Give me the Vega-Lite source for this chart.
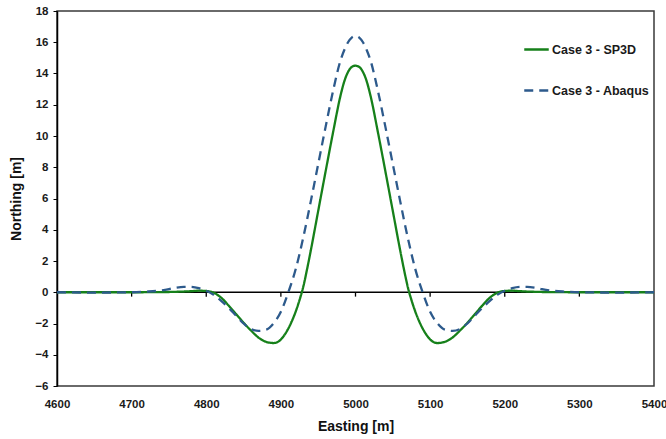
{
  "$schema": "https://vega.github.io/schema/vega-lite/v6.json",
  "width": 597,
  "height": 375,
  "autosize": {"type": "none"},
  "padding": {"left": 57, "top": 11, "right": 12, "bottom": 53},
  "background": "white",
  "config": {"view": {"stroke": "#3a3a3a", "strokeWidth": 1.5}, "font": "Liberation Sans"},
  "datasets": {
    "ticks": [{"e": 4700, "v": 0}, {"e": 4800, "v": 0}, {"e": 4900, "v": 0}, {"e": 5000, "v": 0}, {"e": 5100, "v": 0}, {"e": 5200, "v": 0}, {"e": 5300, "v": 0}],
    "zero": [{"v": 0}],
    "curves": [
      {"e": 4600, "v": 0, "s": "Case 3 - SP3D"},
      {"e": 4650, "v": 0, "s": "Case 3 - SP3D"},
      {"e": 4700, "v": 0, "s": "Case 3 - SP3D"},
      {"e": 4740, "v": 0.01, "s": "Case 3 - SP3D"},
      {"e": 4760, "v": 0.03, "s": "Case 3 - SP3D"},
      {"e": 4780, "v": 0.07, "s": "Case 3 - SP3D"},
      {"e": 4790, "v": 0.1, "s": "Case 3 - SP3D"},
      {"e": 4800, "v": 0.08, "s": "Case 3 - SP3D"},
      {"e": 4810, "v": -0.03, "s": "Case 3 - SP3D"},
      {"e": 4820, "v": -0.35, "s": "Case 3 - SP3D"},
      {"e": 4830, "v": -0.85, "s": "Case 3 - SP3D"},
      {"e": 4840, "v": -1.4, "s": "Case 3 - SP3D"},
      {"e": 4850, "v": -1.95, "s": "Case 3 - SP3D"},
      {"e": 4860, "v": -2.45, "s": "Case 3 - SP3D"},
      {"e": 4870, "v": -2.9, "s": "Case 3 - SP3D"},
      {"e": 4880, "v": -3.17, "s": "Case 3 - SP3D"},
      {"e": 4890, "v": -3.25, "s": "Case 3 - SP3D"},
      {"e": 4895, "v": -3.2, "s": "Case 3 - SP3D"},
      {"e": 4900, "v": -3.02, "s": "Case 3 - SP3D"},
      {"e": 4905, "v": -2.72, "s": "Case 3 - SP3D"},
      {"e": 4910, "v": -2.32, "s": "Case 3 - SP3D"},
      {"e": 4915, "v": -1.82, "s": "Case 3 - SP3D"},
      {"e": 4920, "v": -1.22, "s": "Case 3 - SP3D"},
      {"e": 4925, "v": -0.5, "s": "Case 3 - SP3D"},
      {"e": 4930, "v": 0.35, "s": "Case 3 - SP3D"},
      {"e": 4935, "v": 1.45, "s": "Case 3 - SP3D"},
      {"e": 4940, "v": 2.65, "s": "Case 3 - SP3D"},
      {"e": 4950, "v": 5.2, "s": "Case 3 - SP3D"},
      {"e": 4960, "v": 7.75, "s": "Case 3 - SP3D"},
      {"e": 4970, "v": 10.25, "s": "Case 3 - SP3D"},
      {"e": 4980, "v": 12.6, "s": "Case 3 - SP3D"},
      {"e": 4985, "v": 13.5, "s": "Case 3 - SP3D"},
      {"e": 4990, "v": 14.1, "s": "Case 3 - SP3D"},
      {"e": 4995, "v": 14.42, "s": "Case 3 - SP3D"},
      {"e": 5000, "v": 14.5, "s": "Case 3 - SP3D"},
      {"e": 5005, "v": 14.42, "s": "Case 3 - SP3D"},
      {"e": 5010, "v": 14.1, "s": "Case 3 - SP3D"},
      {"e": 5015, "v": 13.5, "s": "Case 3 - SP3D"},
      {"e": 5020, "v": 12.6, "s": "Case 3 - SP3D"},
      {"e": 5030, "v": 10.25, "s": "Case 3 - SP3D"},
      {"e": 5040, "v": 7.75, "s": "Case 3 - SP3D"},
      {"e": 5050, "v": 5.2, "s": "Case 3 - SP3D"},
      {"e": 5060, "v": 2.65, "s": "Case 3 - SP3D"},
      {"e": 5065, "v": 1.45, "s": "Case 3 - SP3D"},
      {"e": 5070, "v": 0.35, "s": "Case 3 - SP3D"},
      {"e": 5075, "v": -0.5, "s": "Case 3 - SP3D"},
      {"e": 5080, "v": -1.22, "s": "Case 3 - SP3D"},
      {"e": 5085, "v": -1.82, "s": "Case 3 - SP3D"},
      {"e": 5090, "v": -2.32, "s": "Case 3 - SP3D"},
      {"e": 5095, "v": -2.72, "s": "Case 3 - SP3D"},
      {"e": 5100, "v": -3.02, "s": "Case 3 - SP3D"},
      {"e": 5105, "v": -3.2, "s": "Case 3 - SP3D"},
      {"e": 5110, "v": -3.25, "s": "Case 3 - SP3D"},
      {"e": 5120, "v": -3.17, "s": "Case 3 - SP3D"},
      {"e": 5130, "v": -2.9, "s": "Case 3 - SP3D"},
      {"e": 5140, "v": -2.45, "s": "Case 3 - SP3D"},
      {"e": 5150, "v": -1.95, "s": "Case 3 - SP3D"},
      {"e": 5160, "v": -1.4, "s": "Case 3 - SP3D"},
      {"e": 5170, "v": -0.85, "s": "Case 3 - SP3D"},
      {"e": 5180, "v": -0.35, "s": "Case 3 - SP3D"},
      {"e": 5190, "v": -0.03, "s": "Case 3 - SP3D"},
      {"e": 5200, "v": 0.08, "s": "Case 3 - SP3D"},
      {"e": 5210, "v": 0.1, "s": "Case 3 - SP3D"},
      {"e": 5220, "v": 0.07, "s": "Case 3 - SP3D"},
      {"e": 5240, "v": 0.03, "s": "Case 3 - SP3D"},
      {"e": 5260, "v": 0.01, "s": "Case 3 - SP3D"},
      {"e": 5300, "v": 0, "s": "Case 3 - SP3D"},
      {"e": 5350, "v": 0, "s": "Case 3 - SP3D"},
      {"e": 5400, "v": 0, "s": "Case 3 - SP3D"},
      {"e": 4600, "v": 0, "s": "Case 3 - Abaqus"},
      {"e": 4650, "v": -0.02, "s": "Case 3 - Abaqus"},
      {"e": 4700, "v": 0.0, "s": "Case 3 - Abaqus"},
      {"e": 4720, "v": 0.04, "s": "Case 3 - Abaqus"},
      {"e": 4740, "v": 0.12, "s": "Case 3 - Abaqus"},
      {"e": 4750, "v": 0.2, "s": "Case 3 - Abaqus"},
      {"e": 4760, "v": 0.3, "s": "Case 3 - Abaqus"},
      {"e": 4770, "v": 0.35, "s": "Case 3 - Abaqus"},
      {"e": 4780, "v": 0.34, "s": "Case 3 - Abaqus"},
      {"e": 4790, "v": 0.26, "s": "Case 3 - Abaqus"},
      {"e": 4800, "v": 0.1, "s": "Case 3 - Abaqus"},
      {"e": 4810, "v": -0.17, "s": "Case 3 - Abaqus"},
      {"e": 4820, "v": -0.55, "s": "Case 3 - Abaqus"},
      {"e": 4830, "v": -1.0, "s": "Case 3 - Abaqus"},
      {"e": 4840, "v": -1.5, "s": "Case 3 - Abaqus"},
      {"e": 4850, "v": -2.0, "s": "Case 3 - Abaqus"},
      {"e": 4860, "v": -2.35, "s": "Case 3 - Abaqus"},
      {"e": 4870, "v": -2.47, "s": "Case 3 - Abaqus"},
      {"e": 4880, "v": -2.4, "s": "Case 3 - Abaqus"},
      {"e": 4890, "v": -2.0, "s": "Case 3 - Abaqus"},
      {"e": 4900, "v": -1.25, "s": "Case 3 - Abaqus"},
      {"e": 4910, "v": 0.0, "s": "Case 3 - Abaqus"},
      {"e": 4920, "v": 1.5, "s": "Case 3 - Abaqus"},
      {"e": 4930, "v": 3.5, "s": "Case 3 - Abaqus"},
      {"e": 4940, "v": 5.8, "s": "Case 3 - Abaqus"},
      {"e": 4950, "v": 8.2, "s": "Case 3 - Abaqus"},
      {"e": 4960, "v": 10.6, "s": "Case 3 - Abaqus"},
      {"e": 4970, "v": 12.9, "s": "Case 3 - Abaqus"},
      {"e": 4980, "v": 14.85, "s": "Case 3 - Abaqus"},
      {"e": 4985, "v": 15.5, "s": "Case 3 - Abaqus"},
      {"e": 4990, "v": 16.0, "s": "Case 3 - Abaqus"},
      {"e": 4995, "v": 16.3, "s": "Case 3 - Abaqus"},
      {"e": 5000, "v": 16.4, "s": "Case 3 - Abaqus"},
      {"e": 5005, "v": 16.3, "s": "Case 3 - Abaqus"},
      {"e": 5010, "v": 16.0, "s": "Case 3 - Abaqus"},
      {"e": 5015, "v": 15.5, "s": "Case 3 - Abaqus"},
      {"e": 5020, "v": 14.85, "s": "Case 3 - Abaqus"},
      {"e": 5030, "v": 12.9, "s": "Case 3 - Abaqus"},
      {"e": 5040, "v": 10.6, "s": "Case 3 - Abaqus"},
      {"e": 5050, "v": 8.2, "s": "Case 3 - Abaqus"},
      {"e": 5060, "v": 5.8, "s": "Case 3 - Abaqus"},
      {"e": 5070, "v": 3.5, "s": "Case 3 - Abaqus"},
      {"e": 5080, "v": 1.5, "s": "Case 3 - Abaqus"},
      {"e": 5090, "v": 0.0, "s": "Case 3 - Abaqus"},
      {"e": 5100, "v": -1.25, "s": "Case 3 - Abaqus"},
      {"e": 5110, "v": -2.0, "s": "Case 3 - Abaqus"},
      {"e": 5120, "v": -2.4, "s": "Case 3 - Abaqus"},
      {"e": 5130, "v": -2.47, "s": "Case 3 - Abaqus"},
      {"e": 5140, "v": -2.35, "s": "Case 3 - Abaqus"},
      {"e": 5150, "v": -2.0, "s": "Case 3 - Abaqus"},
      {"e": 5160, "v": -1.5, "s": "Case 3 - Abaqus"},
      {"e": 5170, "v": -1.0, "s": "Case 3 - Abaqus"},
      {"e": 5180, "v": -0.55, "s": "Case 3 - Abaqus"},
      {"e": 5190, "v": -0.17, "s": "Case 3 - Abaqus"},
      {"e": 5200, "v": 0.1, "s": "Case 3 - Abaqus"},
      {"e": 5210, "v": 0.26, "s": "Case 3 - Abaqus"},
      {"e": 5220, "v": 0.34, "s": "Case 3 - Abaqus"},
      {"e": 5230, "v": 0.35, "s": "Case 3 - Abaqus"},
      {"e": 5240, "v": 0.3, "s": "Case 3 - Abaqus"},
      {"e": 5250, "v": 0.2, "s": "Case 3 - Abaqus"},
      {"e": 5260, "v": 0.12, "s": "Case 3 - Abaqus"},
      {"e": 5280, "v": 0.04, "s": "Case 3 - Abaqus"},
      {"e": 5300, "v": 0.0, "s": "Case 3 - Abaqus"},
      {"e": 5350, "v": -0.02, "s": "Case 3 - Abaqus"},
      {"e": 5400, "v": 0, "s": "Case 3 - Abaqus"}
    ]
  },
  "encoding": {
    "y": {
      "field": "v", "type": "quantitative",
      "scale": {"domain": [-6, 18], "nice": false, "zero": false},
      "axis": {
        "values": [-6, -4, -2, 0, 2, 4, 6, 8, 10, 12, 14, 16, 18],
        "title": "Northing [m]", "titleFontSize": 14, "titleFontWeight": "bold", "titleColor": "#111", "titlePadding": 11,
        "labelFontSize": 11.5, "labelFontWeight": "bold", "labelColor": "#1a1a1a", "labelPadding": 5,
        "tickSize": 4, "tickColor": "black", "domainColor": "black", "domainWidth": 1.5, "grid": false
      }
    }
  },
  "layer": [
    {
      "data": {"name": "zero"},
      "mark": {"type": "rule", "color": "black", "strokeWidth": 1.5},
      "encoding": {}
    },
    {
      "data": {"name": "ticks"},
      "mark": {"type": "rule", "color": "black", "strokeWidth": 1.3},
      "encoding": {
        "y2": {"datum": -0.28},
        "x": {
          "field": "e", "type": "quantitative",
          "scale": {"domain": [4600, 5400], "nice": false, "zero": false},
          "axis": {
            "values": [4600, 4700, 4800, 4900, 5000, 5100, 5200, 5300, 5400], "format": "d",
            "title": "Easting [m]", "titleFontSize": 14, "titleFontWeight": "bold", "titleColor": "#111", "titlePadding": 10,
            "labelFontSize": 11.5, "labelFontWeight": "bold", "labelColor": "#1a1a1a", "labelPadding": 12,
            "labelFlush": false, "labelOverlap": false, "labelBound": false,
            "ticks": false, "domain": false, "grid": false
          }
        }
      }
    },
    {
      "data": {"name": "curves"},
      "mark": {"type": "line", "interpolate": "monotone", "strokeWidth": 2.3},
      "encoding": {
        "x": {
          "field": "e", "type": "quantitative",
          "scale": {"domain": [4600, 5400], "nice": false, "zero": false},
          "axis": {
            "values": [4600, 4700, 4800, 4900, 5000, 5100, 5200, 5300, 5400], "format": "d",
            "title": "Easting [m]", "titleFontSize": 14, "titleFontWeight": "bold", "titleColor": "#111", "titlePadding": 10,
            "labelFontSize": 11.5, "labelFontWeight": "bold", "labelColor": "#1a1a1a", "labelPadding": 12,
            "labelFlush": false, "labelOverlap": false, "labelBound": false,
            "ticks": false, "domain": false, "grid": false
          }
        },
        "color": {
          "field": "s", "type": "nominal",
          "scale": {"domain": ["Case 3 - SP3D", "Case 3 - Abaqus"], "range": ["#16801a", "#2d5a8c"]},
          "legend": {
            "orient": "none", "legendX": 466, "legendY": 25, "title": null,
            "symbolType": "stroke", "symbolSize": 600, "symbolStrokeWidth": 2.5,
            "labelFontSize": 12.5, "labelFontWeight": "bold", "labelColor": "#1a1a1a", "labelOffset": 2,
            "rowPadding": 21
          }
        },
        "strokeDash": {
          "field": "s", "type": "nominal",
          "scale": {"domain": ["Case 3 - SP3D", "Case 3 - Abaqus"], "range": [[1, 0], [9, 6]]},
          "legend": {
            "orient": "none", "legendX": 466, "legendY": 25, "title": null,
            "symbolType": "stroke", "symbolSize": 600, "symbolStrokeWidth": 2.5,
            "labelFontSize": 12.5, "labelFontWeight": "bold", "labelColor": "#1a1a1a", "labelOffset": 2,
            "rowPadding": 21
          }
        }
      }
    }
  ]
}
